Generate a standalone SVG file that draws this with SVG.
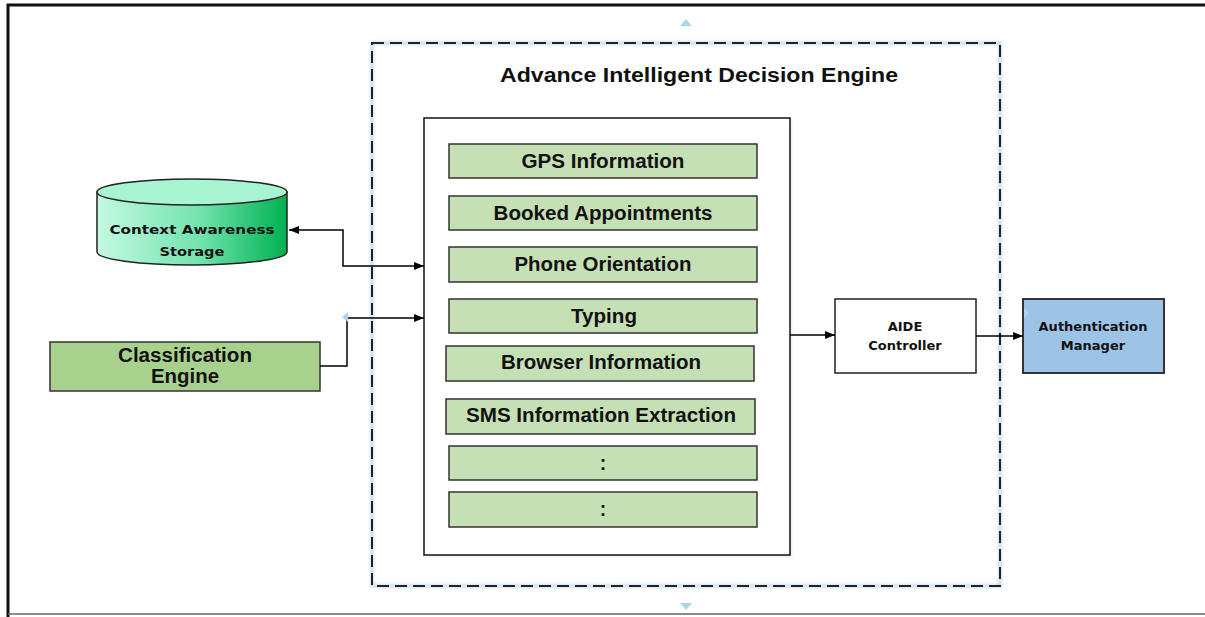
<svg xmlns="http://www.w3.org/2000/svg" width="1205" height="617" viewBox="0 0 1205 617">
<defs>
<linearGradient id="cylGrad" x1="0" y1="0" x2="1" y2="0">
<stop offset="0" stop-color="#c4f9e2"/>
<stop offset="0.55" stop-color="#6fe3ad"/>
<stop offset="1" stop-color="#00b050"/>
</linearGradient>
<marker id="arr" viewBox="0 0 10 10" refX="10" refY="5" markerWidth="10" markerHeight="10" markerUnits="userSpaceOnUse" orient="auto-start-reverse">
<path d="M0,1 L10,5 L0,9 Z" fill="#000"/>
</marker>
<filter id="glow" x="-5%" y="-5%" width="110%" height="110%">
<feGaussianBlur stdDeviation="1.5"/>
</filter>
</defs>
<style>
.bar{fill:#c5e0b4;stroke:#333;stroke-width:1.5}
.bt{font-family:"Liberation Sans",Arial,sans-serif;font-weight:bold;font-size:19.5px;fill:#111;text-anchor:middle}
.st{font-family:"DejaVu Sans","Open Sans",sans-serif;font-weight:bold;font-size:13px;fill:#111;text-anchor:middle}
.conn{fill:none;stroke:#000;stroke-width:1.5}
.tri{fill:#a9d6ef}
</style>
<rect width="1205" height="617" fill="#fff"/>
<g id="frame">
<path d="M8,617 L8,5 L1205,5" fill="none" stroke="#111" stroke-width="3"/>
<line x1="8" y1="614" x2="1205" y2="614" stroke="#666" stroke-width="1.5"/>
</g>
<g id="aide-container">
<rect x="372" y="43" width="628" height="543" fill="none" stroke="#bcd8ee" stroke-width="3" filter="url(#glow)"/>
<rect x="372" y="43" width="628" height="543" fill="none" stroke="#222" stroke-width="2" stroke-dasharray="12,6"/>
<text x="699" y="82" font-family="Liberation Sans,Arial,sans-serif" font-weight="bold" font-size="19.5" fill="#111" text-anchor="middle" textLength="398" lengthAdjust="spacingAndGlyphs">Advance Intelligent Decision Engine</text>
</g>
<g id="features">
<rect x="426" y="120" width="366" height="437" fill="#e6eef6" filter="url(#glow)"/>
<rect x="424" y="118" width="366" height="437" fill="#fff" stroke="#111" stroke-width="1.5"/>
<g id="gps"><rect class="bar" x="449" y="144" width="308" height="34"/><text class="bt" x="603" y="168" textLength="163" lengthAdjust="spacingAndGlyphs">GPS Information</text></g>
<g id="booked"><rect class="bar" x="449" y="196" width="308" height="34"/><text class="bt" x="603" y="220" textLength="219" lengthAdjust="spacingAndGlyphs">Booked Appointments</text></g>
<g id="orientation"><rect class="bar" x="449" y="247" width="308" height="35"/><text class="bt" x="603" y="271" textLength="177" lengthAdjust="spacingAndGlyphs">Phone Orientation</text></g>
<g id="typing"><rect class="bar" x="449" y="299" width="308" height="34"/><text class="bt" x="604" y="323" textLength="66" lengthAdjust="spacingAndGlyphs">Typing</text></g>
<g id="browser"><rect class="bar" x="446" y="346" width="308" height="35"/><text class="bt" x="601" y="369" textLength="200" lengthAdjust="spacingAndGlyphs">Browser Information</text></g>
<g id="sms"><rect class="bar" x="446" y="399" width="309" height="35"/><text class="bt" x="601" y="422" textLength="270" lengthAdjust="spacingAndGlyphs">SMS Information Extraction</text></g>
<g id="more1"><rect class="bar" x="449" y="446" width="308" height="34"/><text class="bt" x="603" y="470">:</text></g>
<g id="more2"><rect class="bar" x="449" y="492" width="308" height="35"/><text class="bt" x="603" y="516">:</text></g>
</g>
<g id="storage">
<path d="M97,192 L97,252 A95,13 0 0 0 287,252 L287,192 Z" fill="url(#cylGrad)" stroke="#222" stroke-width="1.5"/>
<ellipse cx="192" cy="192" rx="95" ry="13" fill="#a8f5d2" stroke="#222" stroke-width="1.5"/>
<text class="st" x="192" y="234" font-size="14.5" textLength="165" lengthAdjust="spacingAndGlyphs">Context Awareness</text>
<text class="st" x="192" y="256" font-size="14.5" textLength="65" lengthAdjust="spacingAndGlyphs">Storage</text>
</g>
<g id="classification">
<rect x="50" y="342" width="270" height="49" fill="#a9d18e" stroke="#333" stroke-width="1.5"/>
<text class="bt" x="185" y="362" textLength="134" lengthAdjust="spacingAndGlyphs">Classification</text>
<text class="bt" x="185" y="383" textLength="68" lengthAdjust="spacingAndGlyphs">Engine</text>
</g>
<g id="controller">
<rect x="835" y="299" width="141" height="74" fill="#fff" stroke="#222" stroke-width="1.5"/>
<text class="st" x="905" y="331">AIDE</text>
<text class="st" x="905" y="350">Controller</text>
</g>
<g id="auth">
<rect x="1023" y="299" width="141" height="74" fill="#9dc3e6" stroke="#333" stroke-width="2"/>
<text class="st" x="1093" y="331">Authentication</text>
<text class="st" x="1093" y="350">Manager</text>
</g>
<g id="connectors">
<path class="conn" d="M289,230 L343,230 L343,266 L424,266" marker-start="url(#arr)" marker-end="url(#arr)"/>
<path class="conn" d="M320,366 L347,366 L347,318 L424,318" marker-end="url(#arr)"/>
<path class="conn" d="M790,335 L835,335" marker-end="url(#arr)"/>
<path class="conn" d="M976,336 L1023,336" marker-end="url(#arr)"/>
</g>
<g id="handles">
<path class="tri" d="M680,26 L686,19 L692,26 Z"/>
<path class="tri" d="M680,603 L686,610 L692,603 Z"/>
<path class="tri" d="M348,312 L342,317 L348,322 Z"/>
<path class="tri" d="M1024,308 L1029,313 L1024,318 Z"/>
</g>
</svg>
